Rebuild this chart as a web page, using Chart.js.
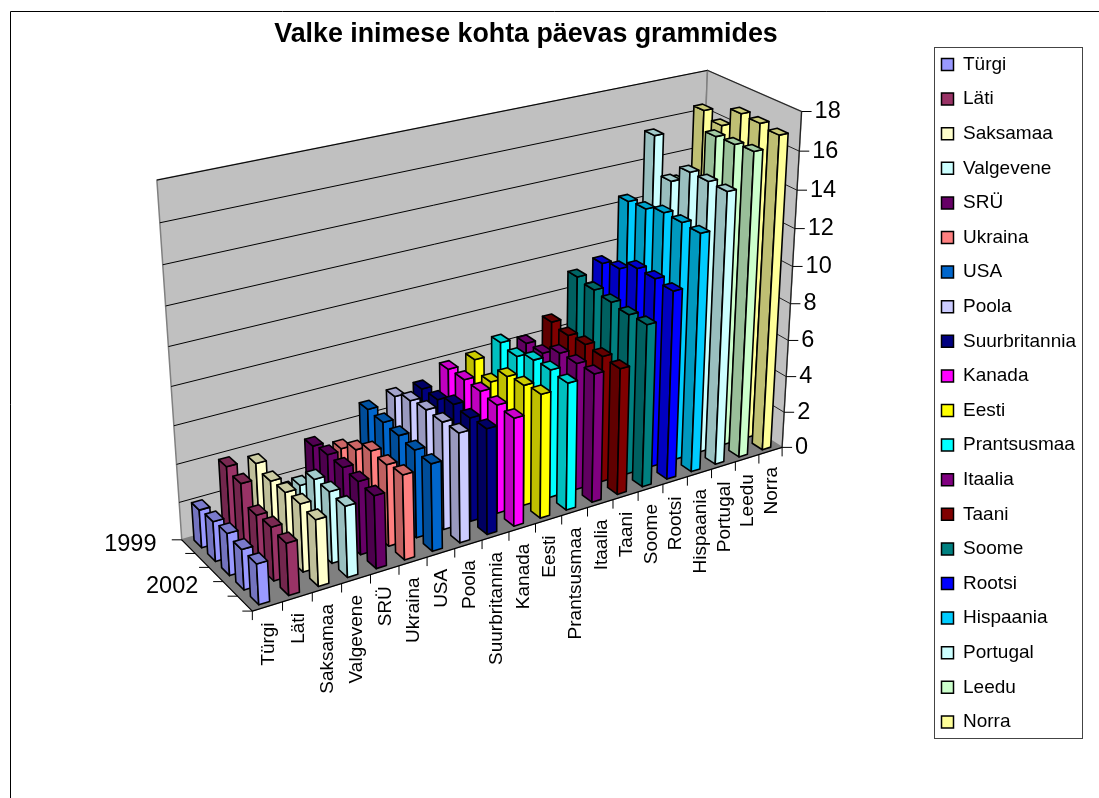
<!DOCTYPE html>
<html>
<head>
<meta charset="utf-8">
<title>Valke inimese kohta päevas grammides</title>
<script src="https://cdn.jsdelivr.net/npm/chart.js@4/dist/chart.umd.min.js"></script>
<style>
  html, body { margin: 0; padding: 0; background: #fff; }
  canvas { display: block; }
</style>
</head>
<body>
<canvas id="chart" width="1099" height="798"></canvas>
<script>
const years = ['1999', '2000', '2001', '2002', '2003'];
const countries = ['Türgi', 'Läti', 'Saksamaa', 'Valgevene', 'SRÜ', 'Ukraina', 'USA', 'Poola', 'Suurbritannia', 'Kanada',
  'Eesti', 'Prantsusmaa', 'Itaalia', 'Taani', 'Soome', 'Rootsi', 'Hispaania', 'Portugal', 'Leedu', 'Norra'];

// grams per person per day, one value per year (1999 is the back row)
const turgi = [2.0, 2.1, 2.2, 2.1, 2.1];
const lati = [3.85, 3.65, 2.7, 2.8, 2.7];
const saksamaa = [3.6, 3.35, 3.45, 3.55, 3.45];
const valgevene = [1.7, 2.7, 3.7, 3.75, 3.7];
const sru = [3.7, 3.9, 3.9, 3.85, 3.8];
const ukraina = [3.15, 3.75, 4.35, 4.3, 4.45];
const usa = [4.85, 4.8, 4.75, 4.65, 4.6];
const poola = [5.15, 5.55, 5.7, 5.7, 5.78];
const suurbritannia = [5.17, 5.22, 5.6, 5.52, 5.6];
const kanada = [5.85, 5.9, 5.9, 5.8, 5.75];
const eesti = [6.0, 5.4, 6.3, 6.45, 6.6];
const prantsusmaa = [6.55, 6.4, 6.8, 6.88, 6.8];
const itaalia = [6.15, 6.2, 6.8, 6.85, 6.9];
const taani = [6.95, 6.8, 6.9, 6.85, 6.8];
const soome = [9.05, 8.9, 8.8, 8.7, 8.75];
const rootsi = [9.45, 9.7, 10.25, 10.25, 10.15];
const hispaania = [12.45, 12.55, 12.85, 12.85, 12.8];
const portugal = [15.63, 13.7, 14.65, 14.65, 14.62];
const leedu = [12.9, 13.4, 16.2, 16.25, 16.35];
const norra = [16.4, 16.05, 17.1, 17.05, 16.9];

const seriesValues = [turgi, lati, saksamaa, valgevene, sru, ukraina, usa, poola, suurbritannia, kanada,
  eesti, prantsusmaa, itaalia, taani, soome, rootsi, hispaania, portugal, leedu, norra];
const seriesColors = ['#9999ff', '#993366', '#ffffcc', '#ccffff', '#660066', '#ff8080', '#0066cc', '#ccccff', '#000080', '#ff00ff',
  '#ffff00', '#00ffff', '#800080', '#800000', '#008080', '#0000ff', '#00ccff', '#ccffff', '#ccffcc', '#ffff99'];

const FONT = '"Liberation Sans", Arial, sans-serif';
const BAR_U = 0.36 / countries.length;
const BAR_W = 0.56 / years.length;

// screen positions of the box corners: [u, v, w, x, y]
const BOX_CORNERS = [
  [0, 0, 0, 252, 611],
  [1, 0, 0, 782, 447],
  [0, 0, 1, 182, 540],
  [1, 0, 1, 695, 393],
  [1, 1, 0, 802, 112],
  [0, 1, 1, 157, 180],
  [1, 1, 1, 707, 70]
];

function solveLinear(A, b) {
  const n = b.length;
  const m = A.map((row, i) => [...row, b[i]]);
  for (let c = 0; c < n; c++) {
    let p = c;
    for (let r = c + 1; r < n; r++) if (Math.abs(m[r][c]) > Math.abs(m[p][c])) p = r;
    [m[c], m[p]] = [m[p], m[c]];
    for (let r = 0; r < n; r++) {
      if (r === c) continue;
      const f = m[r][c] / m[c][c];
      for (let k = c; k <= n; k++) m[r][k] -= f * m[c][k];
    }
  }
  return m.map((row, i) => row[n] / row[i]);
}

// least squares fit of the perspective that maps (u, v, w) to the screen
function fitProjection(corners) {
  const rows = [];
  const rhs = [];
  corners.forEach(([u, v, w, x, y]) => {
    rows.push([u, v, w, 1, 0, 0, 0, 0, -x * u, -x * v, -x * w]);
    rhs.push(x);
    rows.push([0, 0, 0, 0, u, v, w, 1, -y * u, -y * v, -y * w]);
    rhs.push(y);
  });
  const ata = rows[0].map((_, i) => rows[0].map((_, j) => rows.reduce((s, r) => s + r[i] * r[j], 0)));
  const atb = rows[0].map((_, i) => rows.reduce((s, r, k) => s + r[i] * rhs[k], 0));
  return solveLinear(ata, atb);
}

const proj = fitProjection(BOX_CORNERS);

function project(u, v, w) {
  const d = proj[8] * u + proj[9] * v + proj[10] * w + 1;
  return [
    (proj[0] * u + proj[1] * v + proj[2] * w + proj[3]) / d,
    (proj[4] * u + proj[5] * v + proj[6] * w + proj[7]) / d
  ];
}

function shade(hex, k) {
  const r = parseInt(hex.slice(1, 3), 16);
  const g = parseInt(hex.slice(3, 5), 16);
  const b = parseInt(hex.slice(5, 7), 16);
  return `rgb(${Math.round(r * k)}, ${Math.round(g * k)}, ${Math.round(b * k)})`;
}

function face(ctx, points, fill, stroke, lineWidth) {
  ctx.beginPath();
  points.forEach((p, i) => {
    const [x, y] = project(p[0], p[1], p[2]);
    if (i === 0) ctx.moveTo(x, y); else ctx.lineTo(x, y);
  });
  ctx.closePath();
  if (fill) { ctx.fillStyle = fill; ctx.fill(); }
  if (stroke) { ctx.strokeStyle = stroke; ctx.lineWidth = lineWidth; ctx.stroke(); }
}

function line(ctx, a, b, color, lineWidth) {
  ctx.beginPath();
  ctx.moveTo(a[0], a[1]);
  ctx.lineTo(b[0], b[1]);
  ctx.strokeStyle = color;
  ctx.lineWidth = lineWidth;
  ctx.stroke();
}

// scale pixel -> 0..1 inside the box
function normX(scale, index) {
  return (scale.getPixelForValue(index) - scale.left) / scale.width;
}
function normY(scale, value) {
  return (scale.bottom - scale.getPixelForValue(value)) / scale.height;
}

function drawWalls(chart) {
  const { ctx, scales } = chart;
  face(ctx, [[0, 0, 0], [1, 0, 0], [1, 0, 1], [0, 0, 1]], '#808080', '#808080', 1);
  face(ctx, [[0, 0, 1], [1, 0, 1], [1, 1, 1], [0, 1, 1]], '#c0c0c0', '#808080', 1.5);
  face(ctx, [[1, 0, 1], [1, 0, 0], [1, 1, 0], [1, 1, 1]], '#c0c0c0', '#808080', 1.5);
  scales.y.ticks.forEach(tick => {
    const v = normY(scales.y, tick.value);
    if (tick.value > 0) {
      line(ctx, project(0, v, 1), project(1, v, 1), '#000', 1);
      line(ctx, project(1, v, 1), project(1, v, 0), '#222', 1);
    }
  });
}

function drawBars(chart) {
  const { ctx, scales } = chart;
  // back row first, right to left, so nearer bars cover the others
  for (let yi = 0; yi < years.length; yi++) {
    const w = 1 - normX(scales.x, yi);
    for (let ci = countries.length - 1; ci >= 0; ci--) {
      const value = chart.data.datasets[ci].data[yi];
      const color = chart.data.datasets[ci].backgroundColor;
      const u = normX(scales.country, ci);
      const v = normY(scales.y, value);
      const u0 = u - BAR_U / 2, u1 = u + BAR_U / 2;
      const w0 = w - BAR_W / 2, w1 = w + BAR_W / 2;
      face(ctx, [[u0, 0, w1], [u0, 0, w0], [u0, v, w0], [u0, v, w1]], shade(color, 0.75), '#000', 1.6);
      face(ctx, [[u0, 0, w0], [u1, 0, w0], [u1, v, w0], [u0, v, w0]], color, '#000', 1.6);
      face(ctx, [[u0, v, w0], [u1, v, w0], [u1, v, w1], [u0, v, w1]], shade(color, 0.8), '#000', 1.6);
    }
  }
}

function drawAxes(chart) {
  const { ctx, scales } = chart;
  ctx.save();
  ctx.fillStyle = '#000';

  // value axis on the right wall
  line(ctx, project(1, 0, 0), project(1, 1, 0), '#222', 1.2);
  ctx.font = `23.5px ${FONT}`;
  ctx.textAlign = 'left';
  ctx.textBaseline = 'middle';
  scales.y.ticks.forEach(tick => {
    const [x, y] = project(1, normY(scales.y, tick.value), 0);
    line(ctx, [x, y], [x + 10, y], '#000', 1);
    ctx.fillText(tick.label, x + 13, y);
  });

  // depth axis, ticks between the years
  line(ctx, project(0, 0, 0), project(0, 0, 1), '#000', 1.2);
  for (let i = 0; i <= years.length; i++) {
    const [x, y] = project(0, 0, i / years.length);
    line(ctx, [x, y], [x - 10, y], '#000', 1);
  }
  ctx.textAlign = 'right';
  scales.x.ticks.forEach((tick, i) => {
    if (!tick.label) return;
    const [x, y] = project(0, 0, 1 - normX(scales.x, i));
    ctx.fillText(tick.label, x - 32, y - 2);
  });

  // country axis along the front of the floor
  line(ctx, project(0, 0, 0), project(1, 0, 0), '#000', 1.2);
  for (let i = 0; i <= countries.length; i++) {
    const [x, y] = project(i / countries.length, 0, 0);
    line(ctx, [x, y], [x, y + 9], '#000', 1);
  }
  ctx.font = `19px ${FONT}`;
  scales.country.ticks.forEach((tick, i) => {
    const [x, y] = project(normX(scales.country, i), 0, 0);
    ctx.save();
    ctx.translate(x + 1, y + 16);
    ctx.rotate(-Math.PI / 2);
    ctx.textAlign = 'right';
    ctx.textBaseline = 'middle';
    ctx.fillText(tick.label, 0, 0);
    ctx.restore();
  });
  ctx.restore();
}

const box3d = {
  id: 'box3d',
  afterLayout(chart) {
    // title is centred over the plot, legend sits in its own frame
    chart.titleBlock.left = 10;
    chart.titleBlock.right = 1042;
    chart.titleBlock.top = 19;
    const legend = chart.legend;
    const pad = legend.options.labels.padding;
    legend.left = 941.5 - pad;
    legend.right = 1098;
    legend.top = 55 - pad;
    legend.bottom = 798;
  },
  beforeDraw(chart) {
    const { ctx } = chart;
    ctx.save();
    ctx.fillStyle = '#fff';
    ctx.fillRect(0, 0, chart.width, chart.height);
    ctx.beginPath();
    ctx.moveTo(10.5, 798);
    ctx.lineTo(10.5, 11.5);
    ctx.lineTo(1099, 11.5);
    ctx.strokeStyle = '#000';
    ctx.lineWidth = 1;
    ctx.stroke();
    ctx.strokeStyle = '#444';
    ctx.strokeRect(934.5, 47.5, 148, 691);
    ctx.restore();
  },
  beforeDatasetsDraw(chart) {
    const { ctx } = chart;
    ctx.save();
    ctx.lineJoin = 'round';
    drawWalls(chart);
    drawBars(chart);
    ctx.restore();
    drawAxes(chart);
    return false;
  }
};

new Chart(document.getElementById('chart'), {
  type: 'bar',
  data: {
    labels: years,
    datasets: countries.map((name, i) => ({
      label: name,
      data: seriesValues[i],
      backgroundColor: seriesColors[i],
      borderColor: '#000',
      borderWidth: 1.5
    }))
  },
  options: {
    responsive: false,
    animation: false,
    scales: {
      x: {
        display: false,
        offset: true,
        ticks: { autoSkip: false, callback(value, index) { return index % 3 === 0 ? years[index] : ''; } }
      },
      country: {
        type: 'category',
        axis: 'x',
        display: false,
        offset: true,
        labels: countries,
        ticks: { autoSkip: false }
      },
      y: { display: false, min: 0, max: 18, ticks: { stepSize: 2 } }
    },
    plugins: {
      title: {
        display: true,
        text: 'Valke inimese kohta päevas grammides',
        color: '#000',
        padding: 0,
        font: { family: FONT, size: 26.8, weight: 'bold' }
      },
      legend: {
        position: 'right',
        align: 'start',
        labels: {
          color: '#000',
          boxWidth: 12,
          boxHeight: 12,
          padding: 15.6,
          font: { family: FONT, size: 19 }
        }
      },
      tooltip: { enabled: false }
    }
  },
  plugins: [box3d]
});
</script>
</body>
</html>
